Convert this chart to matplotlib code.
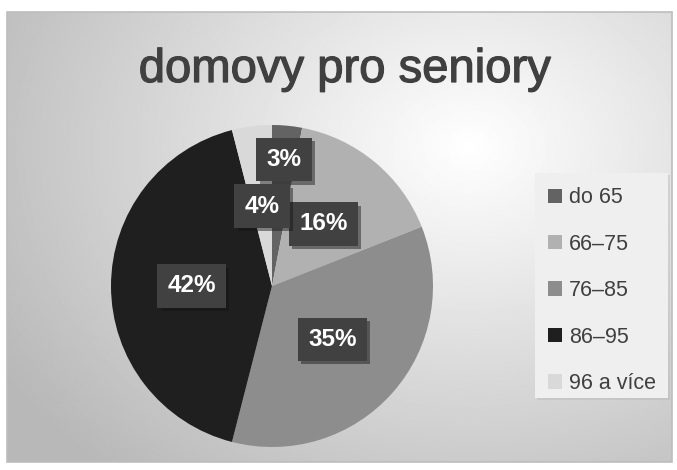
import numpy as np
import matplotlib.pyplot as plt
import matplotlib.patheffects as pe
from matplotlib.patches import Rectangle

plt.rcParams['font.family'] = ['Liberation Sans', 'DejaVu Sans']

title = "domovy pro seniory"
categories = ["do 65", "66–75", "76–85", "86–95", "96 a více"]
shares = [3, 16, 35, 42, 4]
colors = ["#636363", "#b1b1b1", "#8d8d8d", "#1f1f1f", "#d9d9d9"]
label_dist = [0.79, 0.5, 0.5, 0.5, 0.5]

W, H = 677, 470
fig = plt.figure(figsize=(W / 100, H / 100), dpi=100)

# background with radial gradient
bg = fig.add_axes([0, 0, 1, 1])
bg.set_xlim(0, W)
bg.set_ylim(H, 0)
bg.axis("off")
yy, xx = np.mgrid[0:H, 0:W]
d = np.sqrt(((xx - 470) / 520.0) ** 2 + ((yy - 140) / 420.0) ** 2)
shade = np.clip(1.0 - 0.26 * d, 0.72, 1.0)
bg.imshow(shade, cmap="gray", vmin=0, vmax=1, extent=(7, 672, 462, 12),
          interpolation="bilinear", zorder=0)
bg.add_patch(Rectangle((7, 12), 665, 450, fill=False, ec="#bdbdbd", lw=1.2, zorder=1))
bg.add_patch(Rectangle((537, 175), 133, 225, fc="#b0b0b0", ec="none", alpha=0.35, zorder=1))
bg.add_patch(Rectangle((535, 173), 133, 225, fc="#efefef", ec="none", zorder=2))

bg.text(345, 70, title, ha="center", va="center", fontsize=34,
        color="#404040", zorder=3,
        path_effects=[pe.withStroke(linewidth=0.9, foreground="#404040")])

# pie
ax = fig.add_axes([111 / W, (H - 286 - 161) / H, 322 / W, 322 / H])
wedges, _ = ax.pie(shares, colors=colors, startangle=90, counterclock=False,
                   radius=1.0)
ax.set_xlim(-1, 1)
ax.set_ylim(-1, 1)
ax.set_aspect("equal")
ax.axis("off")

start = 90.0
for val, dist in zip(shares, label_dist):
    ang = np.deg2rad(start - val * 3.6 / 2)
    start -= val * 3.6
    t = ax.text(dist * np.cos(ang), dist * np.sin(ang), f"{val}%",
                ha="center", va="center", fontsize=17.5, fontweight="bold",
                color="white", zorder=5,
                bbox=dict(boxstyle="square,pad=0.42", fc="#414141", ec="none"))
    t.get_bbox_patch().set_path_effects(
        [pe.SimplePatchShadow(offset=(2.5, -2.5), alpha=0.45), pe.Normal()])

leg = fig.legend(wedges, categories, loc="upper left",
                 bbox_to_anchor=(529 / W, 1 - 168 / H), frameon=False,
                 fontsize=15.5, handlelength=0.65, handleheight=0.65,
                 handletextpad=0.3, labelspacing=1.18, labelcolor="#404040")

fig.savefig("out.png", dpi=100)
